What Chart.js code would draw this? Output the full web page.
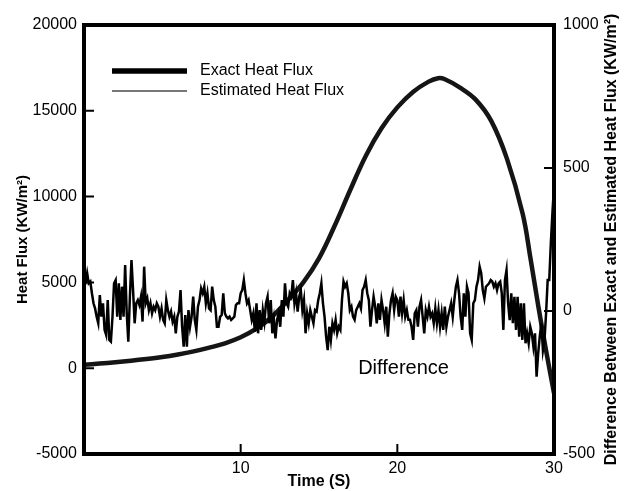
<!DOCTYPE html>
<html>
<head>
<meta charset="utf-8">
<script src="https://cdn.jsdelivr.net/npm/chart.js@4.4.0/dist/chart.umd.min.js"></script>
<style>
  html, body { margin: 0; padding: 0; background: #fff; }
</style>
</head>
<body>
<canvas id="heatChart" width="626" height="491"></canvas>
<script>
// heat flux curves (left axis, KW/m2)
const fluxTimes = [0, 1, 2, 3, 4, 5, 6, 7, 8, 9, 10, 11, 12, 13, 14, 15, 16, 17, 18, 19, 20, 21, 22, 22.6, 23, 24, 25, 26, 27, 28, 28.5, 29, 29.5, 30];
const exactFlux = [200, 270, 350, 440, 540, 650, 800, 980, 1200, 1450, 1800, 2300, 3000, 3950, 5000, 6400, 8300, 10400, 12400, 14000, 15200, 16100, 16700, 16900, 16850, 16350, 15650, 14400, 12200, 9000, 6400, 3600, 1000, -1450];
const estimatedFlux = [230, 260, 370, 430, 560, 640, 820, 970, 1220, 1440, 1820, 2290, 3020, 3940, 5020, 6390, 8320, 10390, 12420, 13990, 15220, 16090, 16720, 16890, 16860, 16340, 15670, 14390, 12220, 8990, 6420, 3590, 1020, -1430];

// difference between exact and estimated (right axis), sampled evenly over 0..30 s
const difference = [
  97, 97, 132, 97, 103, 62, 27, 9, -20, -43, 56, -20, 27, -66, -84, 38, -101, -107, -20, 97,
  108, -20, 97, -31, 85, -20, 161, -8, -107, 50, 178, 73, -43, 27, 38, 21, 50, -37, 155, 27,
  44, 3, 27, -8, 15, 3, 27,
  15, -20, 9, -31, -43, 38, 3, -20, -2, -37, -20, -78, -20, -2, 73, -55, -125, -14, -125, 3,
  -55, -20, 50, -31, -66, 15, 38, 79, 62, 85, 27, 62, 9, 3, 85, 38, 15, -55, -55, -20,
  -14, 62, -8, -20, -26, -20, -31, -26,
  -20, 21, 27, 27, 62, 73, 108, 62, 27, 38, 3, -31, -8, -72, 27, -78, 3, -66, 3, -37,
  27, 50, -43, 38, -78, -31, -96, -31, -8, -55, 38, -20, 97, 27, 15, 62, 50, 108, 27, 62,
  -2, 50, 73, 3, 38, -78, -8, -43, 3, -20,
  -43, 3, -2, 38, 62, 97, 27, -20, -90, -137, -55, -101, -43, -66, -31, -78, -55, -66, 38, 103,
  85, 97, 62, 3, 15, -20, -31, 3, 15, 27, 9, 73, 85, 108, 62, 38, -55, 3, 50, 15,
  -43, 27, -31, 38, 3, -43, 15, -90, -8, 38, 62, 3,
  50, 38, -20, 50, -8, 38, -20, 3, -31, -31, -55, -101, -8, 3, -55, 15, 38, -20, -78, 3,
  -20, 15, -20, -8, -43, 9, -43, 3, -55, -8, -66, 15, -55, -20, 3, 27, -20, 38, 85, 108,
  62, -20, -66, 62, -20, 85, 62, -78, -101,
  27, 38, 85, 108, 155, 132, 73, 44, 85, 91, 97, 108, 103, 85, 97, 73, 97, 103, 62, -66,
  108, 143, 27, -32, 62, -43, 50, -66, 50, -90, 27, -101, 27, -113, -78, -113, -55, -78, -125, -78,
  -230, -148, -90, -43, -137, -101, -8, 108, 108, 237, 342, 434
];

const xTickVals = [10, 20, 30];
const leftTickMarks = [0, 5000, 10000, 15000];
const rightTickMarks = [0, 500];
const xTickMarks = [10, 20];

const FONT = '"Liberation Sans", Arial, sans-serif';
Chart.defaults.font.family = FONT;
Chart.defaults.color = '#000';

const diffPoints = difference.map((d, i) => ({ x: i * 30 / (difference.length - 1), y: d }));
const exactPoints = fluxTimes.map((t, i) => ({ x: t, y: exactFlux[i] }));
const estPoints = fluxTimes.map((t, i) => ({ x: t, y: estimatedFlux[i] }));

// frame, inward tick marks, legend and labels
const framePlugin = {
  id: 'frame',
  afterDatasetsDraw(chart) {
    const { ctx, chartArea: a, scales } = chart;
    ctx.save();
    ctx.strokeStyle = '#000';
    ctx.lineWidth = 2;
    ctx.beginPath();
    leftTickMarks.forEach(v => {
      const y = scales.y.getPixelForValue(v);
      ctx.moveTo(a.left, y); ctx.lineTo(a.left + 10, y);
    });
    rightTickMarks.forEach(v => {
      const y = scales.y2.getPixelForValue(v);
      ctx.moveTo(a.right, y); ctx.lineTo(a.right - 10, y);
    });
    xTickMarks.forEach(v => {
      const x = scales.x.getPixelForValue(v);
      ctx.moveTo(x, a.bottom); ctx.lineTo(x, a.bottom - 10);
    });
    ctx.stroke();

    ctx.lineWidth = 4;
    ctx.strokeRect(a.left, a.top, a.right - a.left, a.bottom - a.top);

    // legend
    const lx = a.left + 28, ly = a.top + 46;
    ctx.lineCap = 'butt';
    ctx.lineWidth = 5.5;
    ctx.beginPath(); ctx.moveTo(lx, ly); ctx.lineTo(lx + 75, ly); ctx.stroke();
    ctx.strokeStyle = '#777';
    ctx.lineWidth = 1.8;
    ctx.beginPath(); ctx.moveTo(lx, ly + 20); ctx.lineTo(lx + 75, ly + 20); ctx.stroke();
    ctx.fillStyle = '#000';
    ctx.font = '16px ' + FONT;
    ctx.textBaseline = 'middle';
    ctx.textAlign = 'left';
    ctx.fillText('Exact Heat Flux', lx + 88, ly);
    ctx.fillText('Estimated Heat Flux', lx + 88, ly + 20);

    ctx.font = '20px ' + FONT;
    ctx.fillText('Difference', scales.x.getPixelForValue(17.5), scales.y.getPixelForValue(0));

    // right axis title, reading bottom to top
    ctx.font = 'bold 16px ' + FONT;
    ctx.translate(612, (a.top + a.bottom) / 2);
    ctx.rotate(-Math.PI / 2);
    ctx.textAlign = 'center';
    ctx.fillText('Difference Between Exact and Estimated Heat Flux (KW/m\u00B2)', 0, 0);
    ctx.restore();
  }
};

const plainNumber = (v) => String(v);

const ctx = document.getElementById('heatChart').getContext('2d');
const chart = new Chart(ctx, {
  type: 'line',
  data: {
    datasets: [
      {
        label: 'Difference',
        data: diffPoints,
        yAxisID: 'y2',
        borderColor: '#000',
        borderWidth: 2.5,
        pointRadius: 0,
        tension: 0
      },
      {
        label: 'Exact Heat Flux',
        data: exactPoints,
        yAxisID: 'y',
        borderColor: '#151515',
        borderWidth: 4.5,
        pointRadius: 0,
        tension: 0.4
      },
      {
        label: 'Estimated Heat Flux',
        data: estPoints,
        yAxisID: 'y',
        borderColor: '#a8a8a8',
        borderWidth: 1.8,
        pointRadius: 0,
        tension: 0.4
      }
    ]
  },
  options: {
    responsive: false,
    animation: false,
    devicePixelRatio: 1,
    layout: { padding: { top: 25, left: 0, right: 0, bottom: 0 } },
    plugins: {
      legend: { display: false },
      tooltip: { enabled: false }
    },
    scales: {
      x: {
        type: 'linear',
        position: 'bottom',
        min: 0,
        max: 30,
        afterBuildTicks: (scale) => { scale.ticks = xTickVals.map(v => ({ value: v })); },
        afterFit: (scale) => { scale.height = 37; },
        grid: { display: false, drawTicks: false },
        border: { display: false },
        ticks: { autoSkip: false, maxRotation: 0, padding: 5, font: { size: 16 }, callback: plainNumber },
        title: {
          display: true,
          text: 'Time (S)',
          font: { size: 16, weight: 'bold' },
          padding: { top: 0, bottom: 0 }
        }
      },
      y: {
        type: 'linear',
        position: 'left',
        min: -5000,
        max: 20000,
        afterFit: (scale) => { scale.width = 84; },
        grid: { display: false, drawTicks: false },
        border: { display: false },
        ticks: { stepSize: 5000, padding: 7, font: { size: 16 }, callback: plainNumber },
        title: {
          display: true,
          text: 'Heat Flux (KW/m\u00B2)',
          font: { size: 15, weight: 'bold' },
          padding: { top: 14, bottom: 0 }
        }
      },
      y2: {
        type: 'linear',
        position: 'right',
        min: -500,
        max: 1000,
        afterFit: (scale) => { scale.width = 72; },
        grid: { display: false, drawTicks: false },
        border: { display: false },
        ticks: { stepSize: 500, padding: 9, font: { size: 16 }, callback: plainNumber }
      }
    }
  },
  plugins: [framePlugin]
});
</script>
</body>
</html>
